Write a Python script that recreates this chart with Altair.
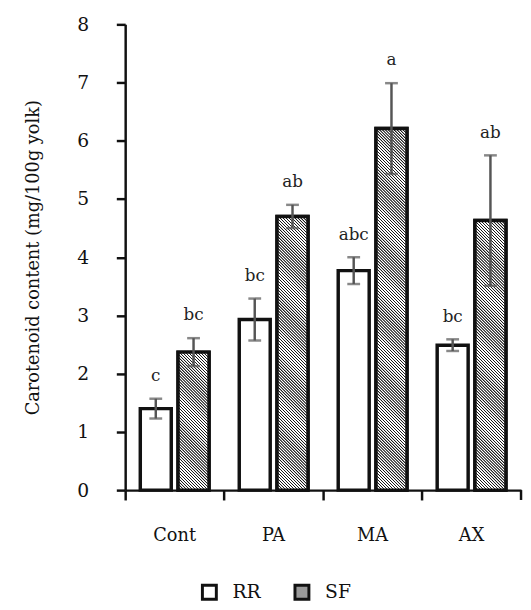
import altair as alt
import pandas as pd

categories = ["Cont", "PA", "MA", "AX"]
series = ["RR", "SF"]
rr_values = [1.40, 2.93, 3.77, 2.49]
rr_errors = [0.17, 0.36, 0.23, 0.10]
sf_values = [2.37, 4.70, 6.21, 4.63]
sf_errors = [0.24, 0.20, 0.78, 1.12]
rr_letters = ["c", "bc", "abc", "bc"]
sf_letters = ["bc", "ab", "a", "ab"]
y_ticks = [0, 1, 2, 3, 4, 5, 6, 7, 8]

FONT = "DejaVu Serif"
W, H = 402, 473
Y_MAX = 8
PI_O, PO_O = 0.18, 0.4
DARK = "#1a1a1a"

rows = []
for i, c in enumerate(categories):
    rows.append({"cat": c, "series": "RR", "value": rr_values[i], "err": rr_errors[i], "letter": rr_letters[i]})
    rows.append({"cat": c, "series": "SF", "value": sf_values[i], "err": sf_errors[i], "letter": sf_letters[i]})
df = pd.DataFrame(rows)

# bar width in pixels (from the scale settings) for the hatch gradient
step_x = W / len(categories)
step_o = step_x / (len(series) - PI_O + 2 * PO_O)
BW = step_o * (1 - PI_O)


def hatch(value, period=3.0):
    """Diagonal hatch built from a striped linear gradient (trapezoid profile)."""
    h = value * H / Y_MAX
    w = BW
    D = w * w + h * h
    dt = period * w / D
    tmax = min(1.0, (w + h) * w / D)
    profile = [(0.0, DARK), (0.24, DARK), (0.44, "white"), (0.84, "white"), (1.0, DARK)]
    stops = []
    t = 0.0
    while t < tmax:
        for f, col in profile[:-1]:
            stops.append({"offset": round(min(t + f * dt, 1.0), 6), "color": col})
        t += dt
    stops.append({"offset": round(min(t, 1.0), 6), "color": DARK})
    return {"gradient": "linear", "x1": 0, "y1": 1, "x2": 1, "y2": 1 - h / w, "stops": stops}


x_enc = alt.X(
    "cat:N",
    sort=categories,
    scale=alt.Scale(domain=categories, paddingInner=0, paddingOuter=0),
    axis=alt.Axis(
        title=None, labelAngle=0, bandPosition=0, tickSize=10, tickWidth=2.5,
        tickColor="#111", domainColor="#111", domainWidth=2.5,
        labelFont=FONT, labelFontSize=18, labelColor="#111", labelPadding=27,
        grid=False,
    ),
)
xo_enc = alt.XOffset("series:N", sort=series,
                     scale=alt.Scale(domain=series, paddingInner=PI_O, paddingOuter=PO_O))
y_scale = alt.Scale(domain=[0, Y_MAX], nice=False)
y_axis = alt.Axis(
    title="Carotenoid content (mg/100g yolk)", values=y_ticks, tickSize=9, tickWidth=2.5,
    tickColor="#111", domainColor="#111", domainWidth=2.5, grid=False,
    labelFont=FONT, labelFontSize=19, labelColor="#111", labelPadding=28,
    titleFont=FONT, titleFontSize=18, titleFontWeight="normal", titleColor="#111",
    titlePadding=35,
)

base = alt.Chart(df)

bars = base.mark_bar(stroke="#111", strokeWidth=3.5).encode(
    x=x_enc,
    xOffset=xo_enc,
    y=alt.Y("value:Q", scale=y_scale, axis=y_axis),
    fill=alt.Fill(
        "series:N", sort=series,
        scale=alt.Scale(domain=series, range=["white", "#9a9a9a"]),
        legend=alt.Legend(
            title=None, orient="none", legendX=76, legendY=567, direction="horizontal",
            symbolType="square", symbolSize=200, symbolStrokeColor="#111",
            symbolStrokeWidth=3, labelFont=FONT, labelFontSize=19, labelColor="#111",
            labelOffset=14, columnPadding=28,
        ),
    ),
)

hatch_layers = []
for i, c in enumerate(categories):
    hatch_layers.append(
        base.transform_filter(
            (alt.datum.series == "SF") & (alt.datum.cat == c)
        ).mark_bar(fill=hatch(sf_values[i]), stroke="#111", strokeWidth=3.5).encode(
            x=x_enc, xOffset=xo_enc, y=alt.Y("value:Q", scale=y_scale, axis=y_axis)
        )
    )

err = base.transform_calculate(
    lo="datum.value - datum.err", hi="datum.value + datum.err"
)
err_rule = err.mark_rule(color="#555", strokeWidth=2.5).encode(
    x=x_enc, xOffset=xo_enc,
    y=alt.Y("lo:Q", scale=y_scale, axis=y_axis), y2="hi:Q",
)
cap_lo = err.mark_tick(color="#555", thickness=2.5, size=13).encode(
    x=x_enc, xOffset=xo_enc, y=alt.Y("lo:Q", scale=y_scale, axis=y_axis)
)
cap_hi = err.mark_tick(color="#555", thickness=2.5, size=13).encode(
    x=x_enc, xOffset=xo_enc, y=alt.Y("hi:Q", scale=y_scale, axis=y_axis)
)
letters = err.mark_text(font=FONT, fontSize=17, color="#222", dy=-18, baseline="alphabetic").encode(
    x=x_enc, xOffset=xo_enc, y=alt.Y("hi:Q", scale=y_scale, axis=y_axis), text="letter:N"
)
end_tick = alt.Chart(pd.DataFrame({"k": [0]})).mark_rule(color="#111", strokeWidth=2.5).encode(
    x=alt.value(W), y=alt.value(H), y2=alt.value(H + 10)
)

chart = alt.layer(bars, *hatch_layers, err_rule, cap_lo, cap_hi, letters, end_tick).properties(
    width=W, height=H,
    autosize=alt.AutoSizeParams(type="none"),
    padding={"left": 119, "top": 12, "right": 2, "bottom": 109},
    background="white",
).configure_view(stroke=None)

chart.save("out.html", embed_options={"renderer": "svg", "actions": False})
